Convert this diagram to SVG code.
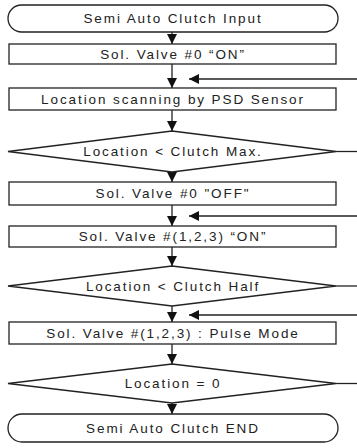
<svg xmlns="http://www.w3.org/2000/svg" width="357" height="448" viewBox="0 0 357 448">
  <defs>
    <marker id="ah" viewBox="0 0 10 10" refX="10" refY="5" markerWidth="10" markerHeight="10" markerUnits="userSpaceOnUse" orient="auto">
      <path d="M0,0 L10,5 L0,10 Z" fill="#111"/>
    </marker>
    <style>
      .shape { fill: #fff; stroke: #222; stroke-width: 1.3; }
      .lbl { font-family: "Liberation Sans", Arial, sans-serif; font-size: 13.5px; letter-spacing: 1.9px; fill: #222; text-anchor: middle; }
      .edge { fill: none; stroke: #222; stroke-width: 1.3; }
    </style>
  </defs>
  <rect width="357" height="448" fill="#fff"/>

  <g id="connectors">
    <path class="edge" d="M172,32 V44" marker-end="url(#ah)"/>
    <path class="edge" d="M172,64 V88" marker-end="url(#ah)"/>
    <path class="edge" d="M357,79 H189" marker-end="url(#ah)"/>
    <path class="edge" d="M172,110 V131" marker-end="url(#ah)"/>
    <path class="edge" d="M336,151.5 H357"/>
    <path class="edge" d="M172,172 V182" marker-end="url(#ah)"/>
    <path class="edge" d="M172,205 V226" marker-end="url(#ah)"/>
    <path class="edge" d="M357,216 H189" marker-end="url(#ah)"/>
    <path class="edge" d="M172,247 V266" marker-end="url(#ah)"/>
    <path class="edge" d="M336,286 H357"/>
    <path class="edge" d="M172,306 V322" marker-end="url(#ah)"/>
    <path class="edge" d="M357,315 H189" marker-end="url(#ah)"/>
    <path class="edge" d="M172,344 V364" marker-end="url(#ah)"/>
    <path class="edge" d="M336,383.5 H357"/>
    <path class="edge" d="M172,403 V414" marker-end="url(#ah)"/>
  </g>

  <g id="start">
    <rect class="shape" x="8" y="5" width="330" height="27" rx="13.5"/>
    <text class="lbl" x="173" y="23">Semi Auto Clutch Input</text>
  </g>
  <g id="valve0-on">
    <rect class="shape" x="9" y="44" width="327" height="20"/>
    <text class="lbl" x="173" y="59">Sol. Valve #0 “ON”</text>
  </g>
  <g id="scan">
    <rect class="shape" x="9" y="88" width="327" height="22"/>
    <text class="lbl" x="173" y="104">Location scanning by PSD Sensor</text>
  </g>
  <g id="check-max">
    <polygon class="shape" points="172,131 336,151.5 172,172 8,151.5"/>
    <text class="lbl" x="173" y="156">Location &lt; Clutch Max.</text>
  </g>
  <g id="valve0-off">
    <rect class="shape" x="9" y="182" width="327" height="23"/>
    <text class="lbl" x="173" y="198">Sol. Valve #0 "OFF"</text>
  </g>
  <g id="valve123-on">
    <rect class="shape" x="9" y="226" width="327" height="21"/>
    <text class="lbl" x="173" y="241">Sol. Valve #(1,2,3) “ON”</text>
  </g>
  <g id="check-half">
    <polygon class="shape" points="172,266 336,286 172,306 8,286"/>
    <text class="lbl" x="173" y="291">Location &lt; Clutch Half</text>
  </g>
  <g id="pulse">
    <rect class="shape" x="9" y="322" width="327" height="22"/>
    <text class="lbl" x="173" y="338">Sol. Valve #(1,2,3) : Pulse Mode</text>
  </g>
  <g id="check-zero">
    <polygon class="shape" points="172,364 336,383.5 172,403 8,383.5"/>
    <text class="lbl" x="173" y="388">Location = 0</text>
  </g>
  <g id="end">
    <rect class="shape" x="8" y="414" width="330" height="28" rx="14"/>
    <text class="lbl" x="173" y="433">Semi Auto Clutch END</text>
  </g>
</svg>
